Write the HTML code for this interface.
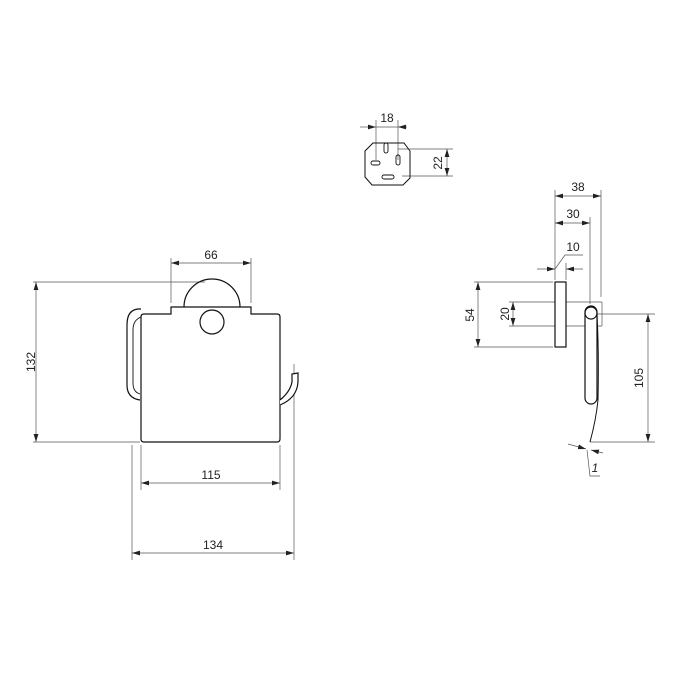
<!DOCTYPE html>
<html><head><meta charset="utf-8"><style>html,body{margin:0;padding:0;background:#fff}svg{display:block}</style></head><body>
<svg width="675" height="675" viewBox="0 0 675 675" xmlns="http://www.w3.org/2000/svg" font-family="Liberation Sans, sans-serif" font-size="12" fill="none">
<defs>
<marker id="a" viewBox="0 0 10 6" refX="10" refY="3" markerWidth="8" markerHeight="5" orient="auto-start-reverse" markerUnits="userSpaceOnUse"><path d="M0,0 L10,3 L0,6 z" fill="#222"/></marker>
</defs>
<g stroke="#555" stroke-width="0.7">
<line x1="36" y1="282" x2="36" y2="442" marker-start="url(#a)" marker-end="url(#a)"/>
<line x1="33" y1="282" x2="205" y2="282"/>
<line x1="33" y1="442" x2="140" y2="442"/>
<line x1="171" y1="263" x2="251" y2="263" marker-start="url(#a)" marker-end="url(#a)"/>
<line x1="171" y1="258" x2="171" y2="303"/>
<line x1="251" y1="258" x2="251" y2="303"/>
<line x1="141" y1="483" x2="280" y2="483" marker-start="url(#a)" marker-end="url(#a)"/>
<line x1="141" y1="445" x2="141" y2="490"/>
<line x1="280" y1="445" x2="280" y2="490"/>
<line x1="132" y1="553" x2="294" y2="553" marker-start="url(#a)" marker-end="url(#a)"/>
<line x1="132" y1="445" x2="132" y2="560"/>
<line x1="294" y1="364" x2="294" y2="560"/>
<line x1="555" y1="196" x2="601" y2="196" marker-start="url(#a)" marker-end="url(#a)"/>
<line x1="555" y1="223" x2="590" y2="223" marker-start="url(#a)" marker-end="url(#a)"/>
<line x1="555" y1="190" x2="555" y2="280"/>
<line x1="601" y1="190" x2="601" y2="297"/>
<line x1="590" y1="217" x2="590" y2="304"/>
<line x1="537" y1="269" x2="555" y2="269" marker-end="url(#a)"/>
<line x1="583" y1="269" x2="566" y2="269" marker-end="url(#a)"/>
<line x1="566" y1="263" x2="566" y2="280"/>
<polyline points="555,269 565,255 583,255"/>
<line x1="478" y1="282" x2="478" y2="347" marker-start="url(#a)" marker-end="url(#a)"/>
<line x1="474" y1="282" x2="553" y2="282"/>
<line x1="474" y1="347" x2="553" y2="347"/>
<line x1="513" y1="302" x2="513" y2="326" marker-start="url(#a)" marker-end="url(#a)"/>
<line x1="509" y1="302" x2="602" y2="302"/>
<line x1="509" y1="326" x2="602" y2="326"/>
<line x1="602" y1="302" x2="602" y2="326"/>
<line x1="648" y1="314" x2="648" y2="442" marker-start="url(#a)" marker-end="url(#a)"/>
<line x1="597" y1="314" x2="655" y2="314"/>
<line x1="590" y1="442" x2="655" y2="442"/>
<line x1="568" y1="444" x2="586" y2="449" marker-end="url(#a)"/>
<line x1="603" y1="453" x2="591" y2="450" marker-end="url(#a)"/>
<polyline points="587,450 590,476 600,476"/>
<line x1="360" y1="127" x2="376" y2="127" marker-end="url(#a)"/>
<line x1="407" y1="127" x2="398" y2="127" marker-end="url(#a)"/>
<line x1="376" y1="127" x2="398" y2="127"/>
<line x1="376" y1="120" x2="376" y2="160"/>
<line x1="398" y1="120" x2="398" y2="160"/>
<line x1="447" y1="149" x2="447" y2="176" marker-start="url(#a)" marker-end="url(#a)"/>
<line x1="398" y1="149" x2="453" y2="149"/>
<line x1="402" y1="176" x2="453" y2="176"/>
</g>
<g stroke="#111" stroke-width="1.2">
<path d="M184,307 A28,28 0 0 1 240,307"/>
<path d="M144,314 L171,314 L171,307 L251,307 L251,314 L277,314 Q280,314 280,317 L280,439 Q280,442 277,442 L144,442 Q141,442 141,439 L141,317 Q141,314 144,314 Z" fill="#fff"/>
<circle cx="212" cy="322" r="12" fill="#fff"/>
<path d="M141,309 L138,309 Q127,310 127,325 L127,385 Q127,398 140,400"/>
<path d="M141,317 Q133,320 133,330 L133,383 Q133,392 140,394" stroke-width="0.9"/>
<path d="M280,400 Q290,392 292,382 L292,374 L298,373 L298,382 Q297,398 280,405" fill="#fff"/>
<rect x="555" y="282" width="11" height="65" fill="#fff"/>
<rect x="585" y="306" width="12" height="98" rx="6" fill="#fff"/>
<circle cx="591" cy="313" r="6"/>
<path d="M597,315 Q599,350 598,400 Q596,420 590,442" stroke-width="1"/>
<path d="M373,143 L404,143 L410,151 L410,178 L403,185 L372,185 L365,177 L365,151 Z" stroke-width="1"/>
<rect x="384" y="143" width="4" height="10" rx="2" stroke-width="0.9"/>
<rect x="396" y="155" width="4" height="10" rx="2" stroke-width="0.9"/>
<rect x="371" y="161" width="9" height="4" rx="2" stroke-width="0.9"/>
<rect x="382" y="175" width="12" height="4" rx="2" stroke-width="0.9"/>
</g>
<g fill="#222" stroke="none" text-anchor="middle">
<text x="211" y="259">66</text>
<text x="211" y="479">115</text>
<text x="213" y="549">134</text>
<text x="578" y="191">38</text>
<text x="573" y="218">30</text>
<text x="573" y="251">10</text>
<text x="387" y="122">18</text>
<text x="595" y="472" font-style="italic">1</text>
<text transform="translate(35,362) rotate(-90)">132</text>
<text transform="translate(474,315) rotate(-90)">54</text>
<text transform="translate(509,314) rotate(-90)">20</text>
<text transform="translate(643,378) rotate(-90)">105</text>
<text transform="translate(442,163) rotate(-90)">22</text>
</g>
</svg>
</body></html>
